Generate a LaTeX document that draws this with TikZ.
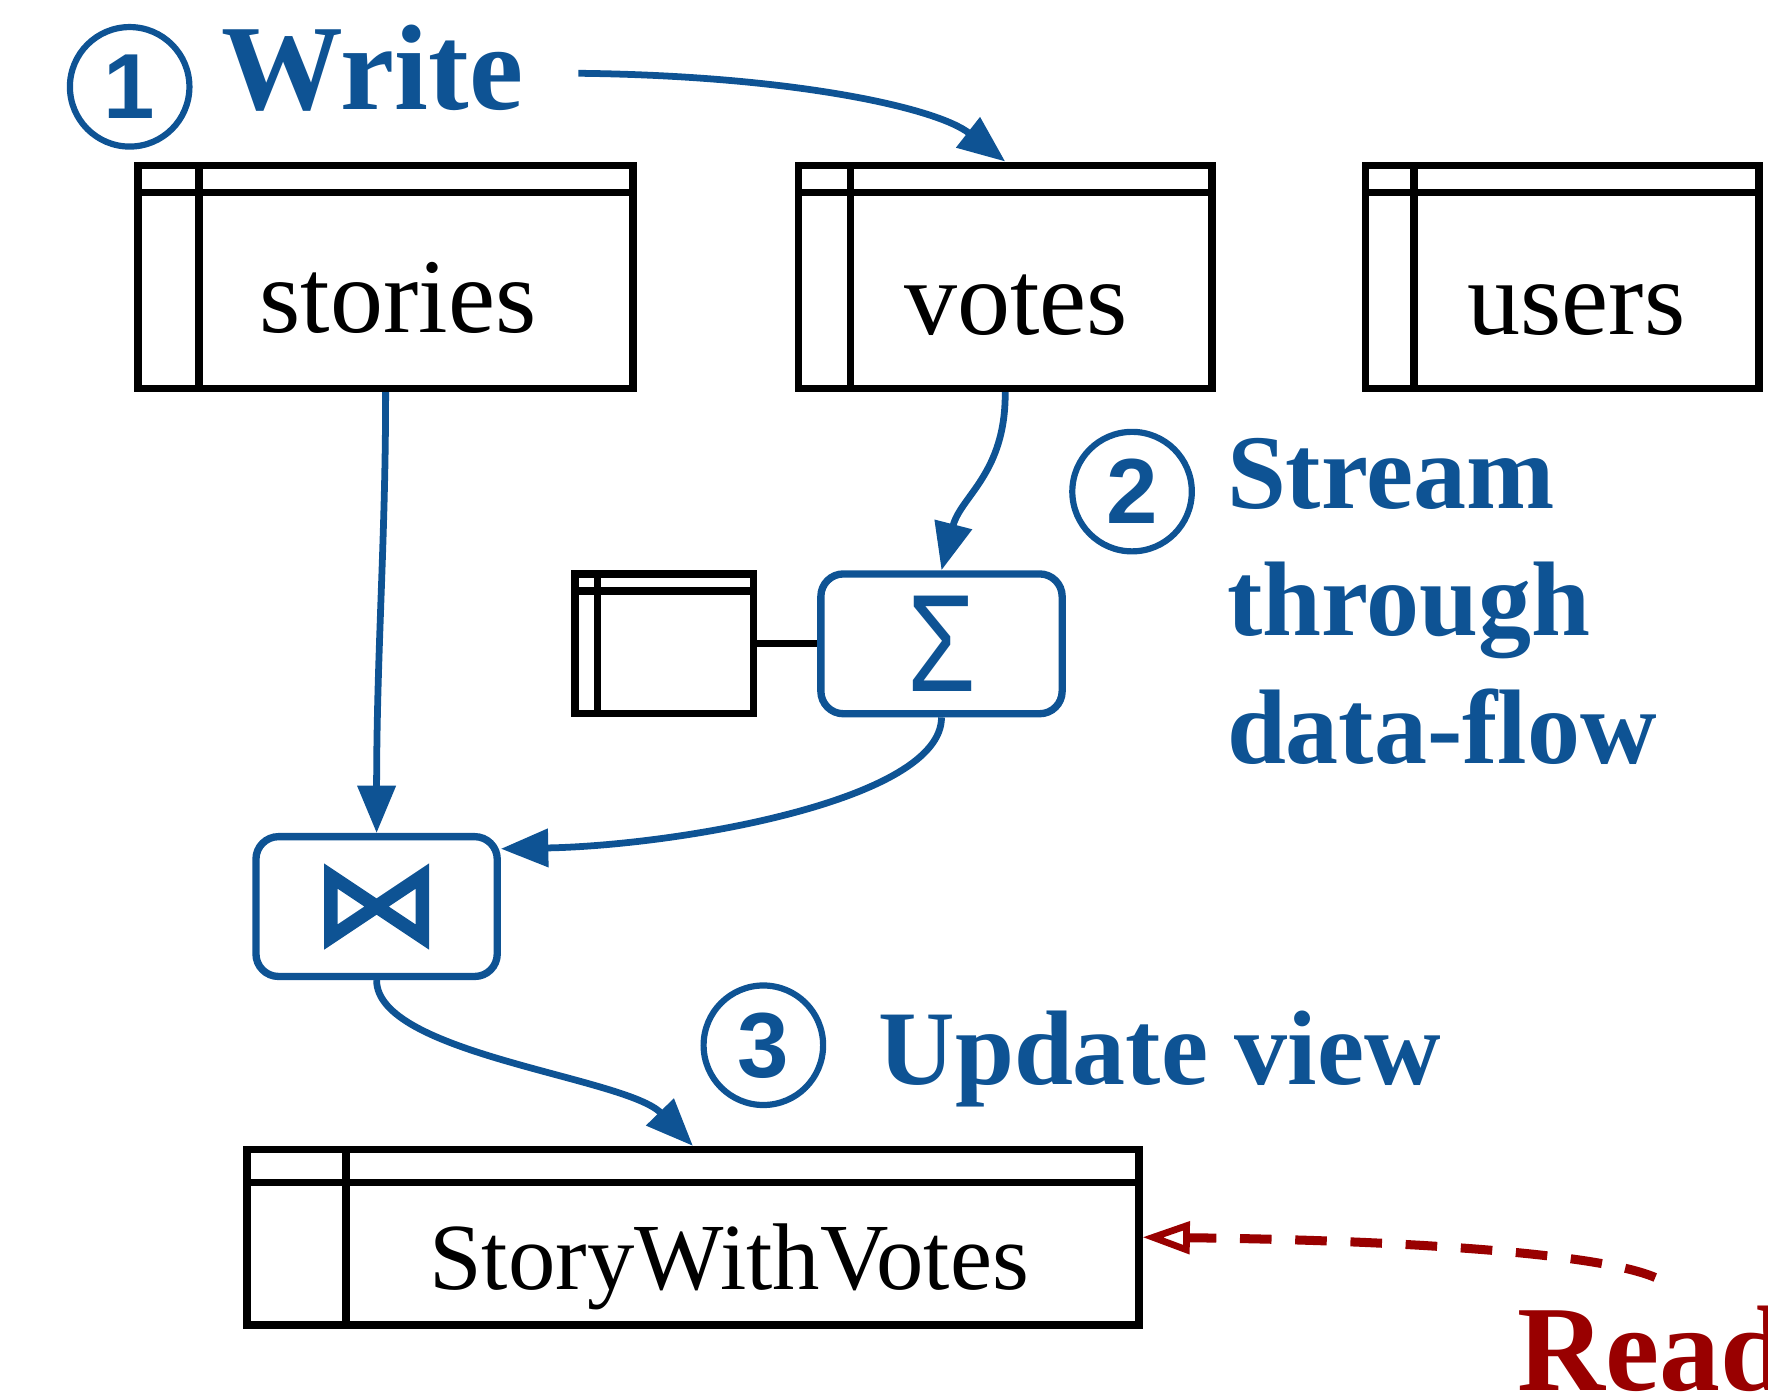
\documentclass[tikz,border=0pt]{standalone}
\usepackage{fontspec}
\usepackage{graphicx}
\setmainfont{Liberation Serif}
\newfontfamily\numfont{Liberation Sans}
\usetikzlibrary{arrows.meta}

\definecolor{flowblue}{RGB}{14,83,148}
\definecolor{readred}{RGB}{153,0,0}

\tikzset{
  tablebox/.style n args={4}{draw, line width=6.5pt, inner sep=0pt,
    minimum width=#1, minimum height=#2,
    path picture={%
      \draw[line width=6.5pt] ([xshift=#3]path picture bounding box.north west)
        -- ([xshift=#3]path picture bounding box.south west);
      \draw[line width=6.5pt] ([yshift=-#4]path picture bounding box.north west)
        -- ([yshift=-#4]path picture bounding box.north east);
    }},
  tablename/.style={anchor=base, inner sep=0pt, font=\fontsize{94}{94}\selectfont},
  opbox/.style={draw=flowblue, line width=6.5pt, rounded corners=20pt, inner sep=0pt,
    minimum width=214pt, minimum height=124pt, text=flowblue},
  stepnum/.style={circle, draw=flowblue, line width=5.5pt, inner sep=0pt,
    minimum size=106pt, text=flowblue, font=\numfont\bfseries\fontsize{82}{82}\selectfont},
  steptext/.style={anchor=base west, inner sep=0pt, text=flowblue,
    font=\bfseries\fontsize{94}{113}\selectfont},
  flow/.style={draw=flowblue, line width=6pt, -{Triangle[length=42pt, width=33pt]}},
  readflow/.style={draw=readred, line width=8pt, dash pattern=on 28pt off 21pt,
    -{Triangle[open, length=42pt, width=28pt, line width=6pt]}}
}

\begin{document}
\begin{tikzpicture}[x=1pt, y=1pt]
\useasboundingbox (0,0) rectangle (1568,-1238);

% base tables
\node[tablebox={439pt}{198pt}{54pt}{24.5pt}] (stories) at (342,-245.5) {};
\node[tablebox={367pt}{198pt}{46pt}{24.5pt}] (votes) at (891.5,-245.5) {};
\node[tablebox={349pt}{198pt}{43pt}{24.5pt}] (users) at (1385.5,-245.5) {};
\node[tablename] (stories-name) at (353,-295) {stories};
\node[tablename] (votes-name) at (901,-297) {votes};
\node[tablename] (users-name) at (1398,-297) {users};

% operators
\node[tablebox={158pt}{124pt}{20pt}{15pt}] (state) at (589,-571) {};
\node[opbox] (sum) at (835,-571) {\numfont\fontsize{123}{123}\selectfont\scalebox{0.8}[1]{Σ}};
\node[opbox, path picture={\draw[flowblue, line width=12pt, sharp corners, line join=miter]
    ([shift={(-40.5,27)}]path picture bounding box.center) -- ++(0,-54)
    -- ++(81,54) -- ++(0,-54) -- cycle;}] (join) at (334,-804) {};
\draw[line width=6.5pt] (state.east) -- (sum.west);

% view
\node[tablebox={791pt}{155.5pt}{88pt}{29pt}] (swv) at (614.5,-1097.25) {};
\node[tablename, font=\fontsize{84}{84}\selectfont] (swv-name) at (646.5,-1143.5) {StoryWithVotes};

% steps
\node[stepnum] (n1) at (115,-77) {1};
\node[stepnum] (n2) at (1004,-436) {2};
\node[stepnum] (n3) at (677,-927) {3};
\node[steptext, font=\bfseries\fontsize{108}{108}\selectfont] (write) at (196,-97.5) {Write};
\node[steptext, align=left] (stream) at (1088,-677) {Stream\\through\\data-flow};
\node[steptext] (update) at (779,-962) {Update view};
\node[steptext, text=readred, font=\bfseries\fontsize{108}{108}\selectfont] (read) at (1346,-1233) {Read};

\coordinate (writeout) at (513,-65);
\coordinate (readout) at (1468,-1133);

\draw[flow] (writeout) .. controls (700,-67) and (830,-95) .. (votes.north);
\draw[flow] (stories.south) .. controls (342,-480) and (334,-580) .. (join.north);
\draw[flow] (votes.south) .. controls (892,-420) and (852,-440) .. (sum.north);
\draw[flow] (sum.south) .. controls (835,-710) and (600,-750) .. ([yshift=-14pt]join.north east);
\draw[flow] (join.south) .. controls (334,-935) and (555,-955) .. (swv.north);
\draw[readflow] (readout) .. controls (1420,-1112) and (1250,-1100) .. (swv.east);
\end{tikzpicture}
\end{document}
